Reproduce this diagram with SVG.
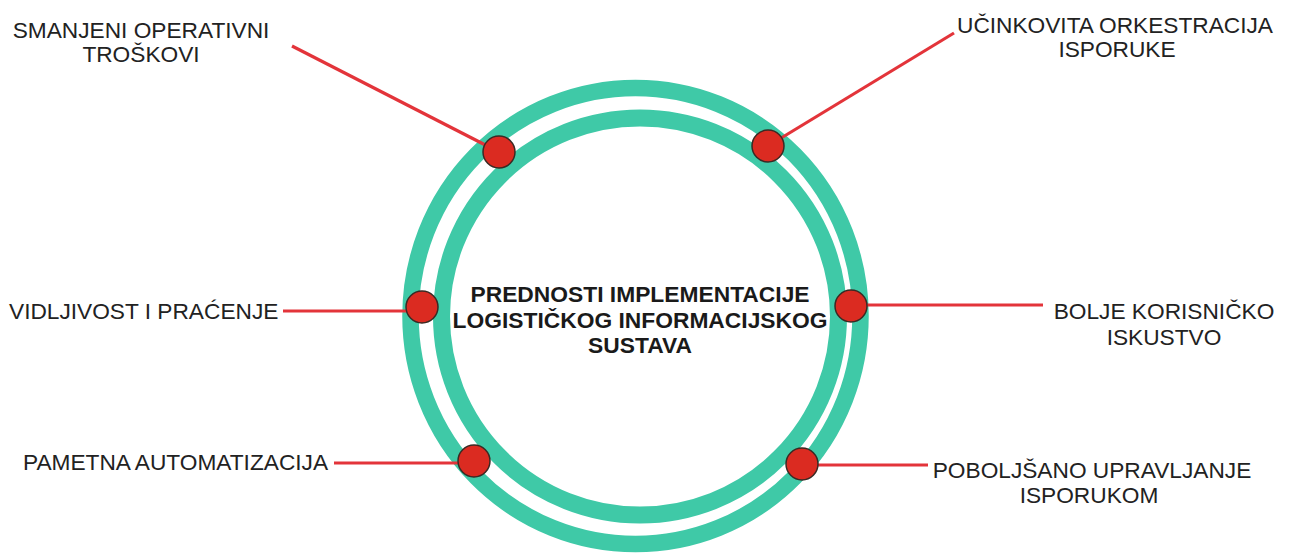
<svg xmlns="http://www.w3.org/2000/svg" width="1291" height="556" viewBox="0 0 1291 556">
<style>
.ring{fill:none;stroke:#3fc9a7}
.dot{fill:#db2b21;stroke:#3a2a24;stroke-width:1.5}
.conn line{stroke:#e3343a;stroke-width:3.2}
.lbl{font-family:"Liberation Sans",Arial,sans-serif;font-size:22.7px;fill:#222}
.title{font-family:"Liberation Sans",Arial,sans-serif;font-size:22.8px;font-weight:bold;fill:#1a1a1a}
</style>
<rect width="1291" height="556" fill="#fff"/>
<g id="rings">
<ellipse class="ring" cx="635.5" cy="316" rx="225" ry="228" stroke-width="16.5"/>
<circle class="ring" cx="640" cy="316.5" r="198.5" stroke-width="17"/>
</g>
<g id="connectors" class="conn">
<line x1="292" y1="46" x2="499" y2="152"/>
<line x1="954" y1="33" x2="768" y2="146"/>
<line x1="283" y1="311" x2="422" y2="311"/>
<line x1="1043" y1="305" x2="851" y2="305"/>
<line x1="334" y1="463" x2="474" y2="463"/>
<line x1="928" y1="465" x2="802" y2="465"/>
</g>
<g id="center">
<text class="title" text-anchor="middle" x="640" y="302">PREDNOSTI IMPLEMENTACIJE</text>
<text class="title" text-anchor="middle" x="640" y="328">LOGISTIČKOG INFORMACIJSKOG</text>
<text class="title" text-anchor="middle" x="640" y="353">SUSTAVA</text>
</g>
<g id="n1">
<circle class="dot" cx="499" cy="152" r="16"/>
<text class="lbl" text-anchor="middle" x="141" y="38">SMANJENI OPERATIVNI</text>
<text class="lbl" text-anchor="middle" x="141" y="62">TROŠKOVI</text>
</g>
<g id="n2">
<circle class="dot" cx="768" cy="146" r="16"/>
<text class="lbl" text-anchor="middle" x="1115" y="33">UČINKOVITA ORKESTRACIJA</text>
<text class="lbl" text-anchor="middle" x="1117" y="57">ISPORUKE</text>
</g>
<g id="n3">
<circle class="dot" cx="422" cy="307" r="16"/>
<text class="lbl" x="9" y="319">VIDLJIVOST I PRAĆENJE</text>
</g>
<g id="n4">
<circle class="dot" cx="851" cy="306" r="16"/>
<text class="lbl" text-anchor="middle" x="1164" y="319">BOLJE KORISNIČKO</text>
<text class="lbl" text-anchor="middle" x="1164" y="345">ISKUSTVO</text>
</g>
<g id="n5">
<circle class="dot" cx="474" cy="461" r="16"/>
<text class="lbl" x="23" y="470">PAMETNA AUTOMATIZACIJA</text>
</g>
<g id="n6">
<circle class="dot" cx="802" cy="464" r="16"/>
<text class="lbl" text-anchor="middle" x="1092" y="478">POBOLJŠANO UPRAVLJANJE</text>
<text class="lbl" text-anchor="middle" x="1089" y="503">ISPORUKOM</text>
</g>
</svg>
